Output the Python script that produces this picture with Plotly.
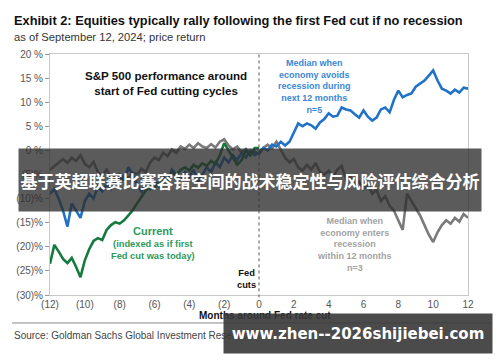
import plotly.graph_objects as go

# ---------------- data ----------------
months = [-12, -11.75, -11.5, -11.25, -11, -10.75, -10.5, -10.25, -10, -9.75, -9.5, -9.25,
          -9, -8.75, -8.5, -8.25, -8, -7.75, -7.5, -7.25, -7, -6.75, -6.5, -6.25,
          -6, -5.75, -5.5, -5.25, -5, -4.75, -4.5, -4.25, -4, -3.75, -3.5, -3.25,
          -3, -2.75, -2.5, -2.25, -2, -1.75, -1.5, -1.25, -1, -0.75, -0.5, -0.25,
          0, 0.25, 0.5, 0.75, 1, 1.25, 1.5, 1.75, 2, 2.25, 2.5, 2.75,
          3, 3.25, 3.5, 3.75, 4, 4.25, 4.5, 4.75, 5, 5.25, 5.5, 5.75,
          6, 6.25, 6.5, 6.75, 7, 7.25, 7.5, 7.75, 8, 8.25, 8.5, 8.75,
          9, 9.25, 9.5, 9.75, 10, 10.25, 10.5, 10.75, 11, 11.25, 11.5, 11.75, 12]

recession_median = [-4.0, -3.2, -2.5, -1.8, -2.6, -1.5, -2.2, -1.0, -2.8, -3.5, -2.4, -4.5,
                    -5.2, -4.0, -5.5, -5.0, -6.0, -5.2, -5.8, -4.6, -5.0, -3.8, -4.5, -2.5,
                    -1.5, -2.0, -0.5, -1.2, 0.2, -0.5, 0.8, 0.3, 1.2, 0.5, 1.5, 0.8,
                    0.5, 1.3, 0.6, 1.8, 2.3, 1.0, 0.2, 0.8, -0.5, 0.3, -1.0, -0.2,
                    -0.8, 0.5, 1.2, 0.4, 1.8, 0.2, -1.5, -2.5, -1.8, -3.5, -4.2, -3.0,
                    -4.0, -2.6, -4.5, -5.0, -4.2, -5.5, -4.0, -3.2, -6.0, -5.5, -7.2, -6.5,
                    -8.0, -7.0, -9.0, -8.2, -10.5, -9.5, -11.5, -12.5, -14.5, -16.5, -9.0, -10.5,
                    -12.0, -13.5, -15.5, -17.5, -19.0, -17.0, -15.5, -14.5, -15.2, -14.0, -14.8, -13.2, -14.0]

no_recession_median = [-9.0, -8.0, -10.0, -12.5, -15.8, -11.0, -12.5, -14.0, -10.5, -9.0, -10.0, -7.5,
                       -8.5, -7.0, -8.0, -6.5, -5.0, -6.2, -3.5, -5.0, -7.0, -8.5, -7.0, -8.0,
                       -6.5, -7.5, -5.5, -6.5, -4.0, -5.0, -6.0, -4.5, -5.5, -4.0, -6.5, -5.0,
                       -3.5, -4.5, -2.5, -3.5, -1.5, -2.5, -1.0, -2.0, -0.5, -1.5, 0.0, -1.0,
                       -0.5, 0.5, 0.0, 1.2, 0.8, 1.8, 1.0, 1.8, 3.8, 5.6, 5.0, 5.6,
                       5.2, 4.5, 5.8, 6.5, 7.7, 7.0, 7.2, 8.9, 8.5, 8.3, 7.5, 6.8,
                       8.3, 7.0, 6.2, 6.8, 8.5, 8.9, 7.9, 10.5, 12.4, 11.0, 11.5, 11.8,
                       13.2, 13.9, 14.5, 15.5, 16.6, 14.5, 12.8, 12.4, 11.8, 12.6, 12.0, 13.0, 12.8]

current_months = months[:49]
current = [-23.5, -19.6, -21.0, -22.5, -23.4, -22.3, -24.2, -26.3, -22.8, -20.5, -18.8, -18.2,
           -18.6, -16.5, -15.5, -14.9, -15.2, -14.5, -13.5, -12.4, -11.0, -9.5, -8.3, -7.5,
           -7.8, -6.8, -6.0, -6.5, -4.8, -5.2, -4.0, -3.5, -4.2, -3.0, -3.6, -2.7,
           -3.2, -2.2, -2.8, -1.0, 1.5, 0.0, -1.5, -3.0, -2.0, 0.0, -1.0, 0.5, 0.5]

x_tickvals = [-12, -10, -8, -6, -4, -2, 0, 2, 4, 6, 8, 10, 12]
x_ticktext = ["(12)", "(10)", "(8)", "(6)", "(4)", "(2)", "0", "2", "4", "6", "8", "10", "12"]
y_tickvals = [20, 15, 10, 5, 0, -5, -10, -15, -20, -25, -30]
y_ticktext = ["20 %", "15 %", "10 %", "5 %", "0 %", "(5)%", "(10)%", "(15)%", "(20)%", "(25)%", "(30)%"]

FONT = "Arial, 'Liberation Sans', sans-serif"
GRAY = "#7a7a7a"
BLUE = "#2072c8"
GREEN = "#147a3e"

fig = go.Figure()
fig.add_trace(go.Scatter(x=months, y=recession_median, mode="lines",
                         line=dict(color=GRAY, width=2.6), hoverinfo="skip"))
fig.add_trace(go.Scatter(x=months, y=no_recession_median, mode="lines",
                         line=dict(color=BLUE, width=2.6), hoverinfo="skip"))
fig.add_trace(go.Scatter(x=current_months, y=current, mode="lines",
                         line=dict(color=GREEN, width=2.6), hoverinfo="skip"))

# vertical dotted line at first cut
fig.add_shape(type="line", xref="x", yref="paper", x0=0, x1=0, y0=-0.01, y1=1,
              line=dict(color="#555555", width=1, dash="dot"), layer="above")
# horizontal rule above source
fig.add_shape(type="line", xref="paper", yref="paper", x0=-0.091, x1=1.053, y0=-0.116, y1=-0.116,
              line=dict(color="#888888", width=1))

ann = []
ann.append(dict(text="<b>Exhibit 2: Equities typically rally following the first Fed cut if no recession</b>",
                xref="paper", yref="paper", x=-0.091, y=1.141, xanchor="left", yanchor="middle",
                showarrow=False, font=dict(family=FONT, size=12.8, color="#111111")))
ann.append(dict(text="as of September 12, 2024; price return",
                xref="paper", yref="paper", x=-0.091, y=1.07, xanchor="left", yanchor="middle",
                showarrow=False, font=dict(family=FONT, size=11.2, color="#333333")))
ann.append(dict(text="<b>S&P 500 performance around<br>start of Fed cutting cycles</b>",
                xref="x", yref="y", x=-5.34, y=13.9, xanchor="center", yanchor="middle",
                showarrow=False, font=dict(family=FONT, size=11.6, color="#111111")))
ann.append(dict(text="<b>Median when<br>economy avoids<br>recession during<br>next 12 months<br>n=5</b>",
                xref="x", yref="y", x=3.16, y=13.3, xanchor="center", yanchor="middle",
                showarrow=False, font=dict(family=FONT, size=9, color="#3a88d6")))
ann.append(dict(text="<b>Median when<br>economy enters<br>recession<br>within 12 months<br>n=3</b>",
                xref="x", yref="y", x=5.46, y=-19.5, xanchor="center", yanchor="middle",
                showarrow=False, font=dict(family=FONT, size=9, color="#a3a3a3")))
ann.append(dict(text="<b><span style='font-size:11px'>Current</span><br>(indexed as if first<br>Fed cut was today)</b>",
                xref="x", yref="y", x=-6.1, y=-19.3, xanchor="center", yanchor="middle",
                showarrow=False, font=dict(family=FONT, size=9.3, color="#2e9a5c")))
ann.append(dict(text="<b>Fed<br>cuts</b>",
                xref="x", yref="y", x=-0.69, y=-26.6, xanchor="center", yanchor="middle",
                showarrow=False, font=dict(family=FONT, size=9.3, color="#111111")))
ann.append(dict(text="<b>Months around Fed rate cut</b>",
                xref="paper", yref="paper", x=0.514, y=-0.087, xanchor="center", yanchor="middle",
                showarrow=False, font=dict(family=FONT, size=10, color="#111111")))
ann.append(dict(text="Source: Goldman Sachs Global Investment Research",
                xref="paper", yref="paper", x=-0.091, y=-0.166, xanchor="left", yanchor="middle",
                showarrow=False, font=dict(family=FONT, size=10, color="#444444")))
# overlay banners
ann.append(dict(text="<b>基于英超联赛比赛容错空间的战术稳定性与风险评估综合分析</b>",
                xref="paper", yref="paper", x=0.4785, y=0.477, xanchor="center", yanchor="middle",
                showarrow=False, width=460, height=60, bgcolor="rgba(45,45,45,0.78)",
                font=dict(family="'Noto Sans CJK SC', sans-serif", size=17, color="#ffffff")))
ann.append(dict(text="<b>www.zhen--2026shijiebei.com</b>",
                xref="paper", yref="paper", x=0.737, y=-0.16, xanchor="center", yanchor="middle",
                showarrow=False, width=266, height=37, bgcolor="rgba(55,55,55,0.9)",
                font=dict(family="'DejaVu Sans', sans-serif", size=15, color="#ffffff")))

fig.update_layout(
    width=500, height=362,
    margin=dict(l=50, r=32, t=54, b=67),
    paper_bgcolor="white", plot_bgcolor="white",
    showlegend=False,
    annotations=ann,
    font=dict(family=FONT, size=10, color="#555555"),
)
fig.update_xaxes(range=[-12, 12], tickvals=x_tickvals, ticktext=x_ticktext,
                 showgrid=False, zeroline=False, showline=True, mirror=True,
                 linecolor="#c8c8c8", linewidth=1, ticks="", ticklabelstandoff=0,
                 tickfont=dict(family=FONT, size=10, color="#555555"))
fig.update_yaxes(range=[-30, 20], tickvals=y_tickvals, ticktext=y_ticktext,
                 showgrid=False, zeroline=False, showline=True, mirror=True,
                 linecolor="#c8c8c8", linewidth=1, ticks="outside", ticklen=4,
                 tickcolor="#999999",
                 tickfont=dict(family=FONT, size=10, color="#555555"))

fig.write_html("out.html", config={"displayModeBar": False},
               post_script="document.body.style.margin='0px';")
